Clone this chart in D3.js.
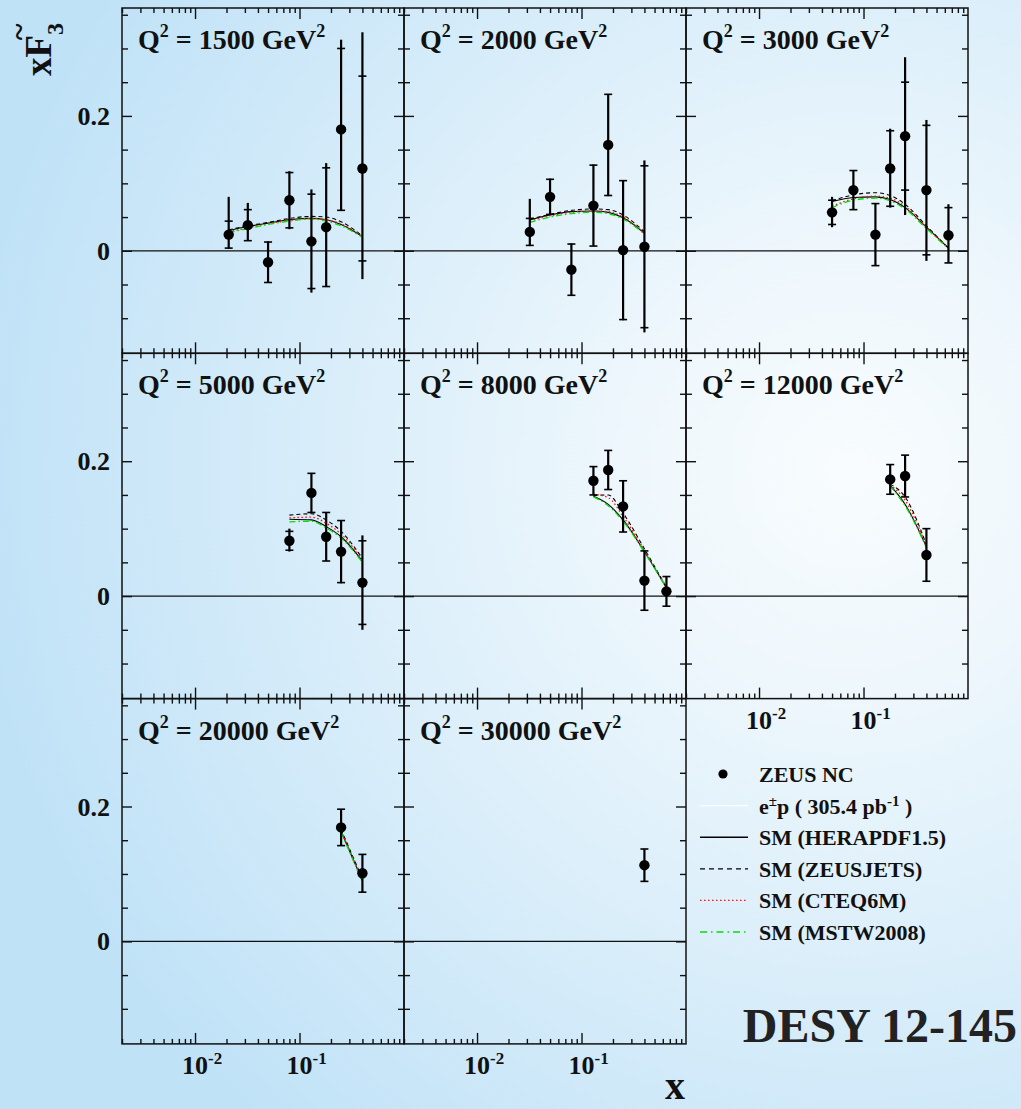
<!DOCTYPE html>
<html>
<head>
<meta charset="utf-8">
<script src="https://d3js.org/d3.v7.min.js"></script>
<style>
  body { margin: 0; }
  text { font-family: "Liberation Serif", "Times New Roman", serif; font-weight: bold; fill: #111; }
  .axis line { stroke: #111; stroke-width: 1.4px; }
</style>
</head>
<body>
<script>

// ---- data ----
var q2Values = [1500, 2000, 3000, 5000, 8000, 12000, 20000, 30000];

var dataX = [
  [0.021, 0.032, 0.05, 0.08, 0.13, 0.18, 0.25, 0.40],
  [0.032, 0.05, 0.08, 0.13, 0.18, 0.25, 0.40],
  [0.05, 0.08, 0.13, 0.18, 0.25, 0.40, 0.65],
  [0.08, 0.13, 0.18, 0.25, 0.40],
  [0.13, 0.18, 0.25, 0.40, 0.65],
  [0.18, 0.25, 0.40],
  [0.25, 0.40],
  [0.40]
];
var dataY = [
  [0.024, 0.038, -0.017, 0.075, 0.014, 0.035, 0.180, 0.122],
  [0.028, 0.080, -0.028, 0.067, 0.157, 0.001, 0.006],
  [0.057, 0.090, 0.024, 0.122, 0.170, 0.090, 0.023],
  [0.082, 0.153, 0.088, 0.066, 0.020],
  [0.171, 0.187, 0.133, 0.023, 0.007],
  [0.173, 0.178, 0.061],
  [0.169, 0.101],
  [0.113]
];
var statErr = [
  [0.020, 0.023, 0.030, 0.041, 0.070, 0.088, 0.120, 0.137],
  [0.020, 0.026, 0.038, 0.060, 0.075, 0.103, 0.120],
  [0.018, 0.029, 0.046, 0.056, 0.080, 0.096, 0.041],
  [0.014, 0.029, 0.036, 0.046, 0.062],
  [0.021, 0.029, 0.038, 0.044, 0.022],
  [0.022, 0.031, 0.039],
  [0.027, 0.028],
  [0.024]
];
var totUp = [
  [0.056, 0.033, 0.031, 0.043, 0.077, 0.095, 0.133, 0.202],
  [0.049, 0.027, 0.039, 0.061, 0.075, 0.103, 0.128],
  [0.023, 0.029, 0.046, 0.059, 0.117, 0.104, 0.046],
  [0.018, 0.029, 0.036, 0.046, 0.070],
  [0.021, 0.029, 0.038, 0.044, 0.022],
  [0.022, 0.031, 0.039],
  [0.027, 0.028],
  [0.024]
];
var totDn = [
  [0.021, 0.023, 0.030, 0.043, 0.076, 0.088, 0.120, 0.164],
  [0.021, 0.026, 0.038, 0.060, 0.076, 0.104, 0.127],
  [0.022, 0.029, 0.046, 0.058, 0.117, 0.105, 0.041],
  [0.016, 0.029, 0.036, 0.047, 0.070],
  [0.021, 0.029, 0.038, 0.044, 0.022],
  [0.022, 0.031, 0.039],
  [0.027, 0.028],
  [0.024]
];

// SM predictions
var theoryX = [
  [0.021, 0.032, 0.05, 0.08, 0.13, 0.18, 0.25, 0.40],
  [0.032, 0.05, 0.08, 0.13, 0.18, 0.25, 0.40],
  [0.05, 0.08, 0.13, 0.18, 0.25, 0.40, 0.65],
  [0.08, 0.13, 0.18, 0.25, 0.40],
  [0.13, 0.18, 0.25, 0.40, 0.65],
  [0.18, 0.25, 0.40],
  [0.25, 0.40],
  [0.40]
];
var heraY = [
  [0.030, 0.036, 0.041, 0.046, 0.048, 0.046, 0.039, 0.021],
  [0.046, 0.053, 0.058, 0.059, 0.057, 0.049, 0.026],
  [0.073, 0.079, 0.080, 0.076, 0.064, 0.035, 0.004],
  [0.114, 0.113, 0.103, 0.088, 0.052],
  [0.148, 0.136, 0.113, 0.066, 0.012],
  [0.164, 0.136, 0.073],
  [0.163, 0.090],
  [0.085]
];
var zeusjetsY = [
  [0.031, 0.037, 0.042, 0.048, 0.051, 0.050, 0.043, 0.022],
  [0.047, 0.054, 0.060, 0.062, 0.061, 0.053, 0.028],
  [0.074, 0.083, 0.086, 0.082, 0.069, 0.037, 0.004],
  [0.120, 0.122, 0.113, 0.096, 0.056],
  [0.149, 0.150, 0.123, 0.070, 0.013],
  [0.166, 0.147, 0.076],
  [0.166, 0.093],
  [0.087]
];
var cteqY = [
  [0.028, 0.034, 0.040, 0.045, 0.048, 0.046, 0.040, 0.021],
  [0.044, 0.052, 0.057, 0.059, 0.058, 0.050, 0.026],
  [0.066, 0.077, 0.081, 0.078, 0.066, 0.035, 0.004],
  [0.116, 0.117, 0.108, 0.092, 0.054],
  [0.151, 0.146, 0.118, 0.068, 0.012],
  [0.165, 0.142, 0.074],
  [0.164, 0.091],
  [0.085]
];
var mstwY = [
  [0.027, 0.033, 0.039, 0.044, 0.047, 0.044, 0.037, 0.020],
  [0.042, 0.050, 0.055, 0.057, 0.055, 0.047, 0.025],
  [0.064, 0.075, 0.078, 0.074, 0.062, 0.033, 0.003],
  [0.110, 0.111, 0.101, 0.086, 0.050],
  [0.147, 0.134, 0.111, 0.065, 0.012],
  [0.163, 0.134, 0.072],
  [0.162, 0.088],
  [0.084]
];

var xMajorTicks = [0.01, 0.1];
var xTickLabels = ["10^{-2}", "10^{-1}"];
var yMajorTicks = [0, 0.2];
var yTickLabels = ["0", "0.2"];
var yMinorTicks = [-0.1, -0.05, 0.05, 0.1, 0.15, 0.25, 0.3, 0.35];

var legendLabels = ["ZEUS NC", "e^{±}p ( 305.4 pb^{-1} )", "SM (HERAPDF1.5)",
                    "SM (ZEUSJETS)", "SM (CTEQ6M)", "SM (MSTW2008)"];

// ---- layout ----
var W = 1021, H = 1109;
var left0 = 122, top0 = 8, panelW = 282, panelH = 345.3;

var svg = d3.select("body").append("svg")
    .attr("width", W)
    .attr("height", H);

var grad = svg.append("defs").append("radialGradient")
    .attr("id", "bg")
    .attr("gradientUnits", "userSpaceOnUse")
    .attr("cx", 850).attr("cy", 470).attr("r", 880);
grad.append("stop").attr("offset", 0).attr("stop-color", "#f8fcfe");
grad.append("stop").attr("offset", 0.25).attr("stop-color", "#eef7fc");
grad.append("stop").attr("offset", 1).attr("stop-color", "#c0e2f7");

svg.append("rect").attr("width", W).attr("height", H).attr("fill", "url(#bg)");

var x = d3.scaleLog().domain([0.002, 1]).range([0, panelW]);
var y = d3.scaleLinear().domain([-0.152, 0.36]).range([panelH, 0]);

var xMinorTicks = x.ticks().filter(function(t) {
  return xMajorTicks.indexOf(t) < 0 && t < 1;
});

// text with ^{...} superscripts
function richText(sel, str, supSize, shift) {
  var parts = str.split(/\^\{([^}]*)\}/);
  var raised = false;
  parts.forEach(function(p, k) {
    if (!p) return;
    var t = sel.append("tspan").text(p);
    if (k % 2) {
      t.attr("font-size", supSize).attr("dy", -shift);
      raised = true;
    } else if (raised) {
      t.attr("dy", shift);
      raised = false;
    }
  });
}

function addAxis(g, axis, tx, ty) {
  g.append("g")
      .attr("class", "axis")
      .attr("transform", "translate(" + tx + "," + ty + ")")
      .call(axis.tickFormat("").tickSizeOuter(0))
      .call(function(a) { a.select(".domain").remove(); });
}

var models = [
  {vals: heraY, color: "#000", dash: null, width: 1.1},
  {vals: zeusjetsY, color: "#000", dash: "4,3", width: 1.1},
  {vals: cteqY, color: "#ff1010", dash: "1.5,2.5", width: 1.3},
  {vals: mstwY, color: "#00e000", dash: "6,3,1.5,3", width: 1.3}
];

q2Values.forEach(function(q2, i) {
  var col = i % 3, row = Math.floor(i / 3);
  var g = svg.append("g")
      .attr("transform", "translate(" + (left0 + col * panelW) + "," + (top0 + row * panelH) + ")");

  // zero line
  g.append("line")
      .attr("x1", 0).attr("x2", panelW)
      .attr("y1", y(0)).attr("y2", y(0))
      .attr("stroke", "#111").attr("stroke-width", 1.3);

  // inward ticks on all four sides
  addAxis(g, d3.axisBottom(x).tickValues(xMinorTicks).tickSize(-5), 0, panelH);
  addAxis(g, d3.axisBottom(x).tickValues(xMajorTicks).tickSize(-11), 0, panelH);
  addAxis(g, d3.axisTop(x).tickValues(xMinorTicks).tickSize(-5), 0, 0);
  addAxis(g, d3.axisTop(x).tickValues(xMajorTicks).tickSize(-11), 0, 0);
  addAxis(g, d3.axisLeft(y).tickValues(yMinorTicks).tickSize(-6), 0, 0);
  addAxis(g, d3.axisLeft(y).tickValues(yMajorTicks).tickSize(-10), 0, 0);
  addAxis(g, d3.axisRight(y).tickValues(yMinorTicks).tickSize(-6), panelW, 0);
  addAxis(g, d3.axisRight(y).tickValues(yMajorTicks).tickSize(-10), panelW, 0);

  g.append("rect")
      .attr("width", panelW).attr("height", panelH)
      .attr("fill", "none").attr("stroke", "#111").attr("stroke-width", 1.5);

  // SM curves
  var line = d3.line()
      .x(function(d) { return x(d[0]); })
      .y(function(d) { return y(d[1]); })
      .curve(d3.curveMonotoneX);
  models.forEach(function(m) {
    var pts = d3.zip(theoryX[i], m.vals[i]);
    if (pts.length < 2) return;
    g.append("path")
        .attr("d", line(pts))
        .attr("fill", "none")
        .attr("stroke", m.color)
        .attr("stroke-width", m.width)
        .attr("stroke-dasharray", m.dash);
  });

  // data points
  var pts = dataX[i].map(function(xv, k) {
    return {x: xv, y: dataY[i][k], s: statErr[i][k], up: totUp[i][k], dn: totDn[i][k]};
  });
  var p = g.selectAll(".pt").data(pts).enter().append("g").attr("class", "pt");
  p.append("line")
      .attr("x1", function(d) { return x(d.x); })
      .attr("x2", function(d) { return x(d.x); })
      .attr("y1", function(d) { return y(d.y + d.up); })
      .attr("y2", function(d) { return y(d.y - d.dn); })
      .attr("stroke", "#000").attr("stroke-width", 2.2);
  [1, -1].forEach(function(sgn) {
    p.append("line")
        .attr("x1", function(d) { return x(d.x) - 4; })
        .attr("x2", function(d) { return x(d.x) + 4; })
        .attr("y1", function(d) { return y(d.y + sgn * d.s); })
        .attr("y2", function(d) { return y(d.y + sgn * d.s); })
        .attr("stroke", "#000").attr("stroke-width", 1.6);
  });
  p.append("circle")
      .attr("cx", function(d) { return x(d.x); })
      .attr("cy", function(d) { return y(d.y); })
      .attr("r", 5.2)
      .attr("fill", "#000");

  // title
  var title = g.append("text")
      .attr("x", 16)
      .attr("y", 41)
      .attr("font-size", 28);
  richText(title, "Q^{2} = " + q2 + " GeV^{2}", 18, 12);

  // y tick labels on first column
  if (col === 0) {
    yMajorTicks.forEach(function(t, k) {
      g.append("text")
          .attr("x", -12)
          .attr("y", y(t) + 9)
          .attr("text-anchor", "end")
          .attr("font-size", 26)
          .text(yTickLabels[k]);
    });
  }

  // x tick labels where nothing sits below
  if (i + 3 >= q2Values.length) {
    xMajorTicks.forEach(function(t, k) {
      var lab = g.append("text")
          .attr("x", x(t) - 13)
          .attr("y", panelH + 30)
          .attr("font-size", 26);
      richText(lab, xTickLabels[k], 17, 10);
    });
  }
});

// axis titles
var yl = svg.append("text")
    .attr("transform", "translate(51,76) rotate(-90)")
    .attr("font-size", 37);
yl.append("tspan").text("x");
yl.append("tspan").text("F");
yl.append("tspan").attr("font-size", 24).attr("dy", 12).text("3");
svg.append("text")
    .attr("transform", "translate(51,76) rotate(-90)")
    .attr("x", 44).attr("y", -22)
    .attr("text-anchor", "middle")
    .attr("font-size", 32)
    .text("~");

svg.append("text")
    .attr("x", 675).attr("y", 1099)
    .attr("text-anchor", "middle")
    .attr("font-size", 40)
    .text("x");

// legend
var legY0 = 782, legDy = 31.6;
var leg = svg.append("g");
legendLabels.forEach(function(lab, k) {
  var ly = legY0 + k * legDy;
  var t = leg.append("text").attr("x", 759).attr("y", ly).attr("font-size", 22);
  richText(t, lab, 15, 8);
  if (k === 0) {
    leg.append("circle").attr("cx", 723).attr("cy", ly - 8).attr("r", 4.6).attr("fill", "#000");
  } else {
    var st = [
      null,
      {color: "#ffffff", dash: null, w: 1.4},
      {color: "#000", dash: null, w: 1.4},
      {color: "#000", dash: "5,4", w: 1.2},
      {color: "#ff1010", dash: "1.5,2.5", w: 1.3},
      {color: "#00e000", dash: "7,4,1.5,4", w: 1.4}
    ][k];
    leg.append("line")
        .attr("x1", 700).attr("x2", 748)
        .attr("y1", ly - 8).attr("y2", ly - 8)
        .attr("stroke", st.color)
        .attr("stroke-width", st.w)
        .attr("stroke-dasharray", st.dash);
  }
});

svg.append("text")
    .attr("x", 1017).attr("y", 1042)
    .attr("text-anchor", "end")
    .attr("font-size", 48)
    .style("fill", "#222")
    .text("DESY 12-145");

</script>
</body>
</html>
